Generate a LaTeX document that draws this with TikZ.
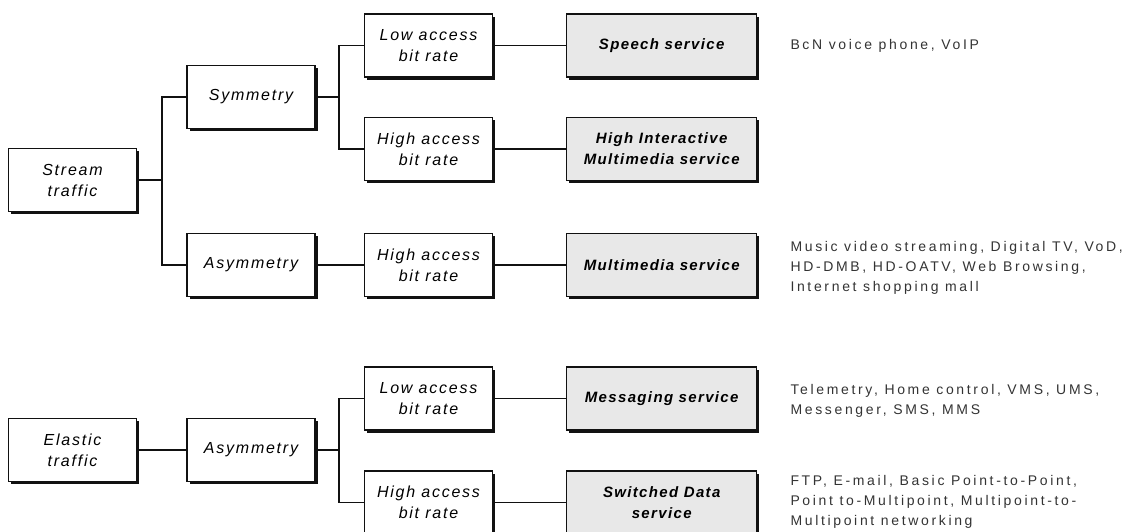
\documentclass[tikz,border=0pt]{standalone}
\usepackage{fontspec}
\setmainfont{Liberation Sans}
\newfontfamily\catfont[LetterSpace=11]{Liberation Sans}
\newfontfamily\svcfont[LetterSpace=9]{Liberation Sans}
\newfontfamily\descfont[LetterSpace=19]{Liberation Sans}
\usetikzlibrary{positioning,shadows}
\definecolor{ink}     {HTML}{111111}
\definecolor{svcfill} {HTML}{E8E8E8}
\definecolor{softink} {HTML}{333333}
\tikzset{
  every node/.style={inner sep=0pt},
  % --- nodes
  cat/.style  = {draw=ink, line width=1.2pt, fill=white, align=center,
                 minimum width=128pt, minimum height=63pt,
                 drop shadow={shadow xshift=2.5pt, shadow yshift=-2.5pt, fill=ink, opacity=1},
                 font=\catfont\itshape\fontsize{16}{21}\selectfont},
  svc/.style  = {cat, fill=svcfill, minimum width=190pt,
                 font=\svcfont\bfseries\itshape\fontsize{15}{21}\selectfont},
  desc/.style = {align=left, text=softink, font=\descfont\fontsize{14}{20}\selectfont},
  % --- edges
  e/.style    = {draw=ink, line width=1.2pt},
}
\begin{document}
\begin{tikzpicture}[x=1pt, y=-1pt]
  \useasboundingbox (0,0) rectangle (1131,531);

  % stream traffic
  \node[cat] (st)   at (72.5,180)  {Stream\\traffic};
  \node[cat] (sym)  at (251,97)    {Symmetry};
  \node[cat] (asy)  at (251,265)   {Asymmetry};
  \node[cat] (lo1)  at (428.5,45.5){Low access\\bit rate};
  \node[cat] (hi1)  at (428.5,149) {High access\\bit rate};
  \node[cat] (hi2)  at (428.5,265) {High access\\bit rate};
  \node[svc, right=73pt of lo1] (sp)  {Speech service};
  \node[svc, right=73pt of hi1] (hia) {High Interactive\\Multimedia service};
  \node[svc, right=73pt of hi2] (mm)  {Multimedia service};
  \node[desc, right=33pt of sp] (dsp) {BcN voice phone, VoIP};
  \node[desc, right=33pt of mm, yshift=-3pt] (dmm)
       {Music video streaming, Digital TV, VoD,\\HD-DMB, HD-OATV, Web Browsing,\\Internet shopping mall};

  % elastic traffic
  \node[cat] (el)   at (72.5,450)  {Elastic\\traffic};
  \node[cat] (asy2) at (251,450)   {Asymmetry};
  \node[cat] (lo3)  at (428.5,398.5){Low access\\bit rate};
  \node[cat] (hi3)  at (428.5,502.5){High access\\bit rate};
  \node[svc, right=73pt of lo3] (msg) {Messaging service};
  \node[svc, right=73pt of hi3] (sw)  {Switched Data\\service};
  \node[desc, right=33pt of msg, yshift=-2pt] (dmsg)
       {Telemetry, Home control, VMS, UMS,\\Messenger, SMS, MMS};
  \node[desc, right=33pt of sw, yshift=1pt] (dsw)
       {FTP, E-mail, Basic Point-to-Point,\\Point to-Multipoint, Multipoint-to-\\Multipoint networking};

  % branch points
  \coordinate (j1) at (162,180);
  \coordinate (j2) at (339,97);
  \coordinate (j3) at (339,450);
  \draw[e] (st) -- (j1);
  \draw[e] (sym) -- (j2);
  \draw[e] (asy2) -- (j3);
  \foreach \j/\t in {j1/sym,j1/asy,j2/lo1,j2/hi1,j3/lo3,j3/hi3}
    \draw[e] (\j) |- (\t.west);
  \foreach \a/\b in {asy/hi2,el/asy2,lo1/sp,hi1/hia,hi2/mm,lo3/msg,hi3/sw}
    \draw[e] (\a) -- (\b);
\end{tikzpicture}
\end{document}
